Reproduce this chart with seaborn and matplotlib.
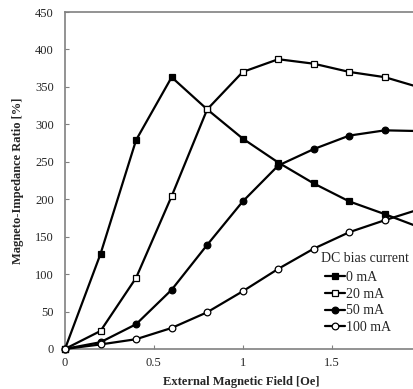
import numpy as np
import pandas as pd
import matplotlib
matplotlib.use('Agg')
import matplotlib.pyplot as plt
import seaborn as sns

sns.set_style('ticks')
plt.rcParams['font.family'] = ['Liberation Serif', 'DejaVu Serif']

field = [0, 0.2, 0.4, 0.6, 0.8, 1.0, 1.2, 1.4, 1.6, 1.8, 2.0]
mi_0mA = [0, 127, 279, 363, 320, 281, 249, 221, 197, 180, 162]
mi_20mA = [0, 24, 95, 204, 320, 370, 387, 381, 370, 363, 349]
mi_50mA = [0, 9, 33, 79, 139, 197, 245, 267, 285, 292, 291]
mi_100mA = [0, 6, 13, 28, 49, 77, 107, 134, 156, 172, 187]

series = [('0 mA', mi_0mA, 's', 'black'),
          ('20 mA', mi_20mA, 's', 'white'),
          ('50 mA', mi_50mA, 'o', 'black'),
          ('100 mA', mi_100mA, 'o', 'white')]

fig = plt.figure(figsize=(4.14, 3.89), dpi=100)
ax = fig.add_axes([0.157, 0.103, 0.85, 0.866])

for name, vals, mk, fc in series:
    df = pd.DataFrame({'x': field, 'y': vals})
    sns.lineplot(data=df, x='x', y='y', ax=ax, color='black', lw=1.6,
                 marker=mk, markersize=5 if mk == 's' else 4.8,
                 markerfacecolor=fc, markeredgecolor='black', markeredgewidth=0.9,
                 label=name, clip_on=False, zorder=3)

ax.set_xlim(0, 1.98)
ax.set_ylim(0, 450)
ax.set_xticks([0, 0.5, 1, 1.5])
ax.set_xticklabels(['0', '0.5', '1', '1.5'])
ax.set_yticks(np.arange(0, 451, 50))
ax.tick_params(direction='in', labelsize=9, length=3, color='#808080', width=0.8)
ax.tick_params(axis='y', pad=8)
ax.tick_params(axis='x', pad=6)
for s in ['left', 'bottom', 'top']:
    ax.spines[s].set_color('#808080')
    ax.spines[s].set_linewidth(1.2)
ax.spines['right'].set_visible(False)
ax.set_xlabel('External Magnetic Field [Oe]', fontsize=9, fontweight='bold', labelpad=5)
ax.set_ylabel('Magneto-Impedance Ratio [%]', fontsize=9, fontweight='bold', labelpad=8)

# legend entries, title as separate text (Excel style offset)
leg = ax.legend(loc='upper left', bbox_to_anchor=(325 / 414, 1 - 271 / 389),
                bbox_transform=fig.transFigure,
                frameon=False, fontsize=10, handlelength=1.45,
                handletextpad=0.05, labelspacing=0.27, borderaxespad=0, borderpad=0)
fig.text(321 / 414, 1 - 258 / 389, 'DC bias current', fontsize=10,
         ha='left', va='center')

fig.savefig('out.png', dpi=100)
